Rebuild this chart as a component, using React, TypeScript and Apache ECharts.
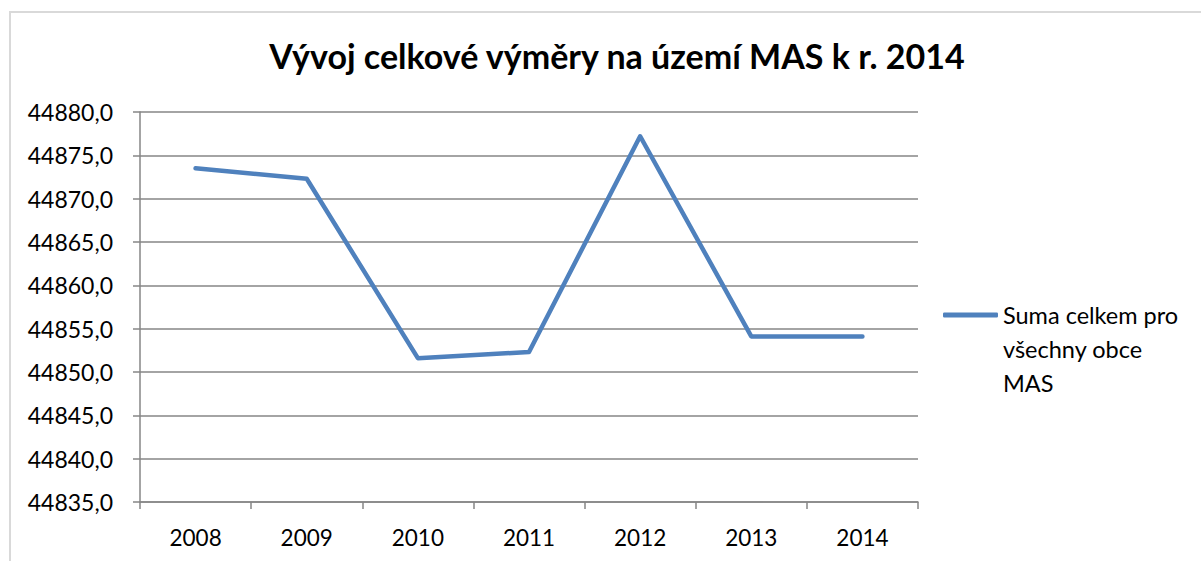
import React, { useEffect, useRef } from "react";
import * as echarts from "echarts";

const years = ["2008", "2009", "2010", "2011", "2012", "2013", "2014"];
const values = [44873.5, 44872.3, 44851.6, 44852.3, 44877.2, 44854.1, 44854.1];
const seriesName = "Suma celkem pro všechny obce MAS";
const legendLines = ["Suma celkem pro", "všechny obce", "MAS"];
const chartTitle = "Vývoj celkové výměry na území MAS k r. 2014";
const yMin = 44835;
const yMax = 44880;
const yStep = 5;

const FONT = "Lato, 'Open Sans', sans-serif";

export default function App() {
  const ref = useRef<HTMLDivElement>(null);
  useEffect(() => {
    if (!ref.current) return;
    const chart = echarts.init(ref.current, null, { renderer: "svg" });
    chart.setOption({
      animation: false,
      backgroundColor: "#ffffff",
      textStyle: { fontFamily: FONT },
      title: {
        text: chartTitle,
        left: 612,
        textAlign: "center",
        top: 33,
        textStyle: { fontFamily: FONT, fontWeight: "bold", fontSize: 34, color: "#000" },
      },
      graphic: [
        {
          type: "rect",
          shape: { x: 10, y: 12, width: 1400, height: 700 },
          style: { fill: "none", stroke: "#d9d9d9", lineWidth: 2 },
          silent: true,
        },
      ],
      legend: {
        data: [seriesName],
        left: 938,
        top: 225,
        orient: "vertical",
        icon: "roundRect",
        itemWidth: 55,
        itemHeight: 5,
        itemGap: 0,
        formatter: () => "\n\n" + legendLines.join("\n"),
        textStyle: {
          fontFamily: FONT,
          fontSize: 23.5,
          color: "#000",
          lineHeight: 34,
        },
      },
      grid: { left: 140, right: 283, top: 112, bottom: 59, containLabel: false },
      xAxis: {
        type: "category",
        data: years,
        boundaryGap: true,
        axisLine: { lineStyle: { color: "#868686", width: 1.5 } },
        axisTick: { show: true, length: 7, lineStyle: { color: "#868686", width: 1.5 } },
        axisLabel: { margin: 24, fontSize: 22.5, color: "#000", fontFamily: FONT },
        splitLine: { show: false },
      },
      yAxis: {
        type: "value",
        min: yMin,
        max: yMax,
        interval: yStep,
        axisLine: { show: true, lineStyle: { color: "#868686", width: 1.5 } },
        axisTick: { show: true, length: 7, lineStyle: { color: "#868686", width: 1.5 } },
        axisLabel: {
          margin: 27,
          fontSize: 23,
          color: "#000",
          fontFamily: FONT,
          formatter: (v: number) => v.toFixed(1).replace(".", ","),
        },
        splitLine: { lineStyle: { color: "#868686", width: 1.5 } },
      },
      series: [
        {
          name: seriesName,
          type: "line",
          data: values,
          symbol: "none",
          lineStyle: { color: "#4F81BD", width: 4.5, cap: "round", join: "round" },
          itemStyle: { color: "#4F81BD" },
        },
      ],
    });
    return () => chart.dispose();
  }, []);
  return (
    <div
      ref={ref}
      style={{ position: "absolute", left: 0, top: 0, width: 1201, height: 561 }}
    />
  );
}
